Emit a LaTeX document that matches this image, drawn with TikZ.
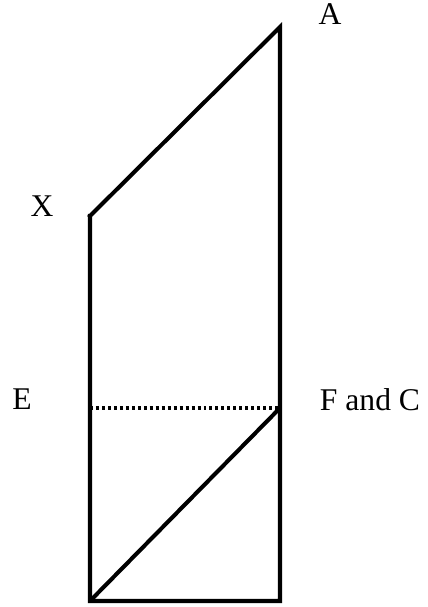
\documentclass[tikz,border=0pt]{standalone}
\usepackage{fontspec}
\setmainfont{Liberation Serif}
\usetikzlibrary{positioning}

\begin{document}
\begin{tikzpicture}[x=0.02cm,y=-0.02cm,
        edge/.style={line width=2.3pt,line cap=rect},
        cut/.style={line width=2.3pt,dash pattern=on 1.7pt off 1.7pt},
        lbl/.style={anchor=base,inner sep=0pt,font=\fontsize{18}{21}\selectfont}]
      \useasboundingbox (0,0) rectangle (427,607);
      \coordinate (a) at (280,27);
      \coordinate (x) at (90,216);
      \coordinate (e) at (90,408);
      \coordinate (fc) at (280,408);
      \coordinate (bl) at (90,601);
      \coordinate (br) at (280,601);
      \node[lbl] (la) at (330,25) {A};
      \node[lbl] (lx) at (42,217) {X};
      \node[lbl] (le) at (22,409) {E};
      \node[lbl] (lfc) at (370,410) {F and C};
      \draw[edge] (x) -- (a) -- (br) -- (bl) -- (x);
      \draw[edge,line cap=butt] (bl) -- (fc);
      \draw[cut] (e) -- (fc);
    \end{tikzpicture}
\end{document}
